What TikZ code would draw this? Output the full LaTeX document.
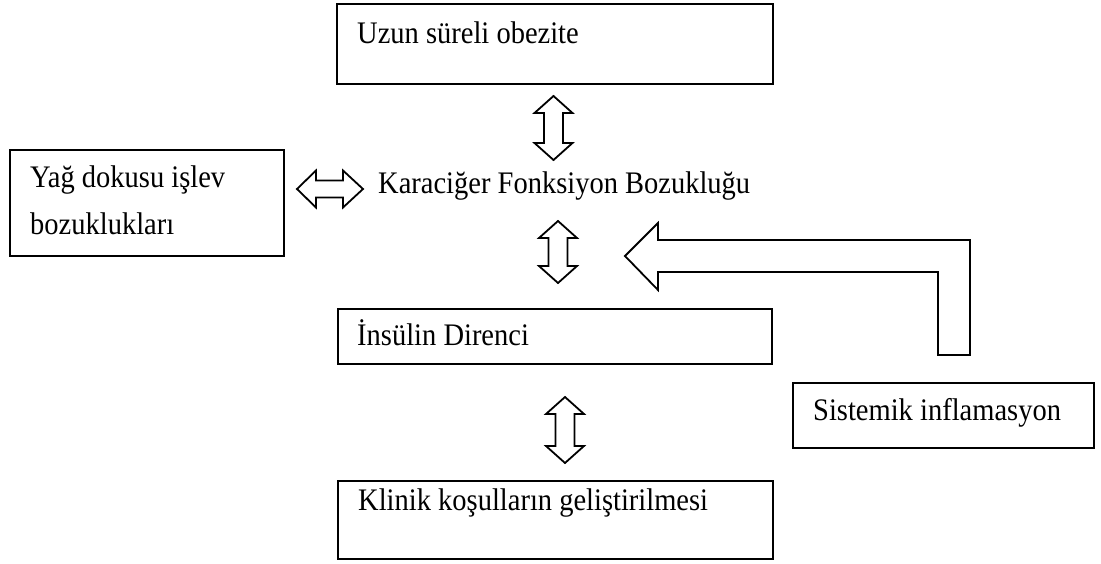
\documentclass[tikz,border=0pt]{standalone}
\usepackage{fontspec}
\usepackage{graphicx}
\setmainfont{Liberation Serif}
\newcommand\tallt[1]{\scalebox{1}[1.1]{#1}}
\begin{document}
\begin{tikzpicture}[x=1pt,y=-1pt,
  box/.style={draw=black, line width=1.8pt, inner sep=0pt, anchor=north west},
  txt/.style={inner sep=0pt, anchor=base west, font=\fontsize{28.5}{34}\selectfont},
  blockarrow/.style={draw=black, line width=1.8pt, line join=miter, fill=white}]
\useasboundingbox (0,0) rectangle (1101,563);
% boxes
\node[box, minimum width=436pt, minimum height=80pt] (obez) at (336,3) {};
\node[box, minimum width=274pt, minimum height=106pt] (yag) at (9,149) {};
\node[box, minimum width=434pt, minimum height=55pt] (ins) at (337,308) {};
\node[box, minimum width=301pt, minimum height=65pt] (sis) at (792,382) {};
\node[box, minimum width=435pt, minimum height=78pt] (kli) at (337,480) {};
% texts
\node[txt] (tobez) at (357,43) {\tallt{Uzun süreli obezite}};
\node[txt] (tyag1) at (30,187) {\tallt{Yağ dokusu işlev}};
\node[txt] (tyag2) at (30,234) {\tallt{bozuklukları}};
\node[txt] (kara) at (378,193) {\tallt{Karaciğer Fonksiyon Bozukluğu}};
\node[txt] (tins) at (357,345) {\tallt{İnsülin Direnci}};
\node[txt] (tsis) at (813,420) {\tallt{Sistemik inflamasyon}};
\node[txt] (tkli) at (358,510) {\tallt{Klinik koşulların geliştirilmesi}};
% vertical double arrows
\foreach \cx/\ya/\yb in {553.5/96/160, 558/221/283, 565/397/463}{
  \draw[blockarrow] (\cx,\ya) -- (\cx+19,\ya+17) -- (\cx+9.5,\ya+17) -- (\cx+9.5,\yb-17)
    -- (\cx+19,\yb-17) -- (\cx,\yb) -- (\cx-19,\yb-17) -- (\cx-9.5,\yb-17)
    -- (\cx-9.5,\ya+17) -- (\cx-19,\ya+17) -- cycle;
}
% horizontal double arrow
\draw[blockarrow] (297,189) -- (316,170.5) -- (316,180.5) -- (343,180.5) -- (343,170.5)
  -- (363,189) -- (343,207.5) -- (343,197.5) -- (316,197.5) -- (316,207.5) -- cycle;
% bent arrow
\draw[blockarrow] (625,256) -- (658,223) -- (658,240) -- (970,240) -- (970,355)
  -- (938,355) -- (938,272) -- (658,272) -- (658,290) -- cycle;
\end{tikzpicture}
\end{document}
